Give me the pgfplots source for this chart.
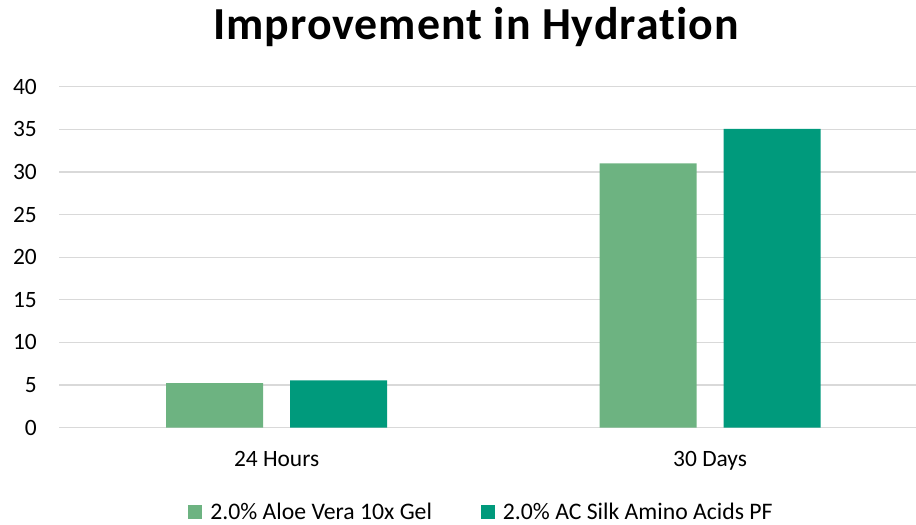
\documentclass[border=0pt]{standalone}
\usepackage{pgfplots}
\pgfplotsset{compat=1.18}
\usepackage{fontspec}
\setmainfont{Carlito}[Ligatures=NoCommon]
\definecolor{aloe}{HTML}{6DB381}
\definecolor{silk}{HTML}{009A7C}
\definecolor{gridc}{HTML}{D9D9D9}
\begin{document}
\begin{tikzpicture}
\useasboundingbox (-59bp,-97.3bp) rectangle (857bp,427.7bp);
\begin{axis}[
  at={(0,0)}, anchor=south west,
  scale only axis, width=857bp, height=341bp,
  xmin=-0.502, xmax=1.475, ymin=0, ymax=40,
  ytick={0,5,...,40},
  xtick={0,1}, xticklabels={24 Hours,30 Days},
  ymajorgrids, grid style={gridc, line width=1.2bp},
  axis line style={draw=none}, major tick length=0pt, tick style={draw=none},
  ticklabel style={font=\fontsize{23.5}{28}\selectfont},
  /pgf/number format/assume math mode=true,
  yticklabel style={anchor=east, inner sep=0pt, xshift=-22bp},
  xticklabel style={anchor=base, inner sep=0pt, yshift=-39bp},
  ybar, bar width=0.224,
  legend style={at={(0.493,-0.2466)}, anchor=center, draw=none, fill=none,
    font=\fontsize{23.8}{28}\selectfont, legend columns=2,
    /tikz/every even column/.append style={column sep=47bp},
    inner sep=0pt, row sep=0pt},
  legend image code/.code={\fill[#1] (0bp,-7bp) rectangle (14bp,7bp); \path (20bp,0bp);},
]
\addplot[fill=aloe, draw=none, bar shift=-0.143] coordinates {(0,5.23) (1,31.0)};
\addplot[fill=silk, draw=none, bar shift=0.143] coordinates {(0,5.55) (1,35.05)};
\legend{2.0\% Aloe Vera 10x Gel, 2.0\% AC Silk Amino Acids PF}
\end{axis}
\node[font=\fontsize{46}{54}\selectfont\bfseries\addfontfeature{LetterSpace=2.2}, anchor=base, inner sep=0pt] at (417bp,388.4bp) {Improvement in Hydration};
\end{tikzpicture}
\end{document}
